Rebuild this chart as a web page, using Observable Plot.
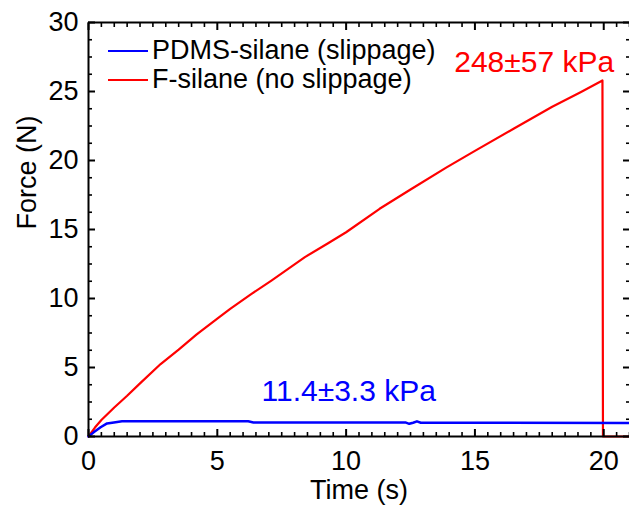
<!DOCTYPE html>
<html>
<head>
<meta charset="utf-8">
<script src="https://cdn.jsdelivr.net/npm/d3@7"></script>
<script src="https://cdn.jsdelivr.net/npm/@observablehq/plot@0.6"></script>
<style>
  html, body { margin: 0; padding: 0; background: #fff; }
  #wrap { position: relative; width: 629px; height: 508px; overflow: hidden; font-family: "Liberation Sans", Arial, sans-serif; }
  #legend { position: absolute; left: 108px; top: 36px; font-size: 27px; line-height: 29px; color: #000; }
  #legend .row { white-space: nowrap; display: flex; align-items: center; height: 29px; }
  #legend .sw { display: inline-block; width: 40px; height: 0; border-top: 2.5px solid; margin-right: 4px; }
</style>
</head>
<body>
<div id="wrap"><div id="legend"></div></div>
<script>
// Series: PDMS-silane (slippage)
const timeBlue  = [0, 0.2, 0.47, 0.72, 1.05, 1.3, 6.2, 6.4, 12.3, 12.45, 12.6, 12.75, 12.9, 21];
const forceBlue = [0, 0.3, 0.67, 0.95, 1.04, 1.1, 1.1, 1.02, 1.02, 0.92, 1.0, 1.1, 1.0, 0.98];
// Series: F-silane (no slippage)
const timeRed  = [0, 0.25, 0.5, 1, 1.5, 2, 2.8, 3.5, 4.2, 5, 5.5, 6.3, 7.1, 8.4, 9.3, 10, 11.3, 12.5, 13.9, 15, 16.5, 18, 19.1, 19.95, 19.97, 21];
const forceRed = [0, 0.65, 1.2, 2.1, 2.95, 3.85, 5.25, 6.3, 7.4, 8.55, 9.25, 10.3, 11.3, 13.0, 14.0, 14.8, 16.5, 17.9, 19.5, 20.7, 22.3, 23.9, 24.95, 25.8, 0, 0];

const seriesNames = ["PDMS-silane (slippage)", "F-silane (no slippage)"];
const seriesColors = ["#0000ff", "#ff0000"];

const xMajor = [0, 5, 10, 15, 20];
const xMinor = d3.range(0, 21.01, 0.5).filter(v => v % 5 !== 0);
const yMajor = [0, 5, 10, 15, 20, 25, 30];
const yMinor = d3.range(0, 30.01, 1.25).filter(v => v % 5 !== 0);

const annoText = ["248\u00b157 kPa", "11.4\u00b13.3 kPa"];
const annoX = [17.3, 10.1];
const annoY = [27.1, 3.3];

const xTitle = "Time (s)";
const yTitle = "Force (N)";

const blue = timeBlue.map((t, i) => ({t, f: forceBlue[i]}));
const red = timeRed.map((t, i) => ({t, f: forceRed[i]}));
const annos = annoText.map((text, i) => ({text, x: annoX[i], y: annoY[i], color: seriesColors[1 - i]}));

const font = "Liberation Sans, Arial, sans-serif";
const common = {label: null, fontSize: 27, fontFamily: font};

const chart = Plot.plot({
  width: 629,
  height: 508,
  marginLeft: 88,
  marginRight: 0,
  marginTop: 22,
  marginBottom: 72,
  style: {background: "#fff", color: "#000", fontFamily: font},
  x: {domain: [0, 21]},
  y: {domain: [0, 30]},
  marks: [
    Plot.line(red, {x: "t", y: "f", stroke: seriesColors[1], strokeWidth: 2.2}),
    Plot.line(blue, {x: "t", y: "f", stroke: seriesColors[0], strokeWidth: 2.5}),
    Plot.ruleX([0], {stroke: "#000", strokeWidth: 2}),
    Plot.ruleY([0, 30], {stroke: "#000", strokeWidth: 2}),
    // bottom
    Plot.axisX(xMinor, {...common, anchor: "bottom", tickSize: -4, tickFormat: () => "", strokeWidth: 1.6}),
    Plot.axisX(xMajor, {...common, anchor: "bottom", tickSize: -7, tickPadding: 21, strokeWidth: 2}),
    // top
    Plot.axisX(xMinor, {...common, anchor: "top", tickSize: -4, tickFormat: () => "", strokeWidth: 1.6}),
    Plot.axisX(xMajor, {...common, anchor: "top", tickSize: -7, tickFormat: () => "", strokeWidth: 2}),
    // left
    Plot.axisY(yMinor, {...common, anchor: "left", tickSize: -4, tickFormat: () => "", strokeWidth: 1.6}),
    Plot.axisY(yMajor, {...common, anchor: "left", tickSize: -7, tickPadding: 17, strokeWidth: 2}),
    // right
    Plot.axisY(yMinor, {...common, anchor: "right", tickSize: -4, tickFormat: () => "", strokeWidth: 1.6}),
    Plot.axisY(yMajor, {...common, anchor: "right", tickSize: -7, tickFormat: () => "", strokeWidth: 2}),
    Plot.text([xTitle], {frameAnchor: "bottom", dy: 62, fontSize: 27, fontFamily: font, fill: "#000"}),
    Plot.text([yTitle], {frameAnchor: "left", rotate: -90, dx: -61, fontSize: 27, fontFamily: font, fill: "#000"}),
    Plot.text(annos, {x: "x", y: "y", text: "text", fill: "color", fontSize: 30, fontFamily: font})
  ]
});

const wrap = document.getElementById("wrap");
wrap.insertBefore(chart, wrap.firstChild);

const legend = document.getElementById("legend");
seriesNames.forEach((name, i) => {
  const row = document.createElement("div");
  row.className = "row";
  const sw = document.createElement("span");
  sw.className = "sw";
  sw.style.borderTopColor = seriesColors[i];
  row.appendChild(sw);
  row.appendChild(document.createTextNode(name));
  legend.appendChild(row);
});
</script>
</body>
</html>
